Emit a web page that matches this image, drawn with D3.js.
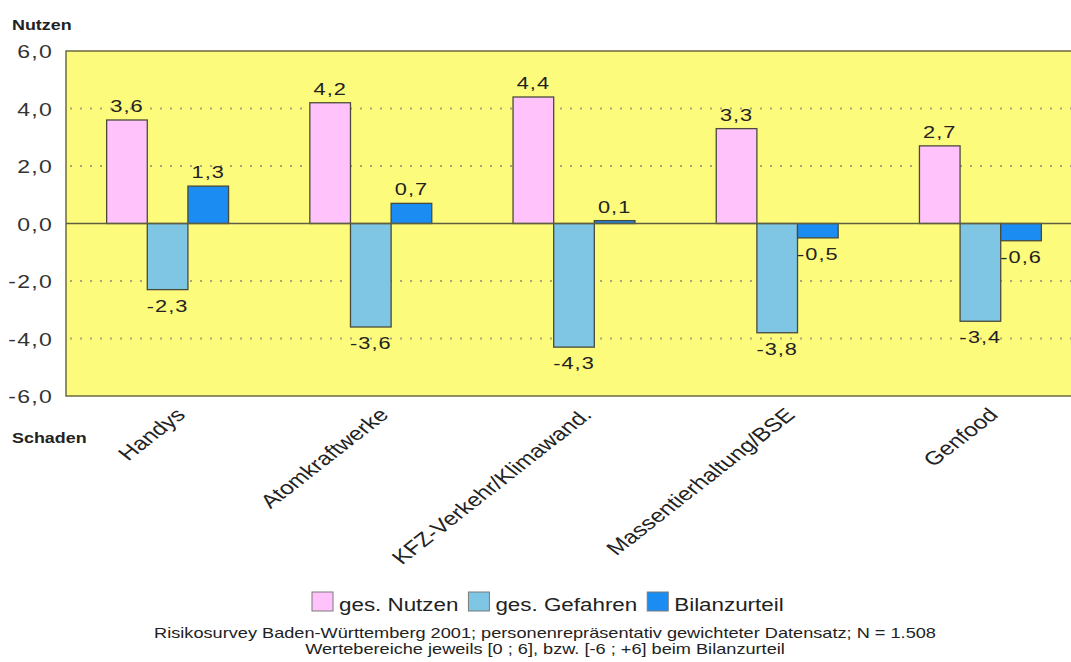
<!DOCTYPE html>
<html>
<head>
<meta charset="utf-8">
<script src="https://cdn.jsdelivr.net/npm/d3@7"></script>
<style>
  body { margin: 0; background: #fff; }
  svg { display: block; font-family: "Liberation Sans", Arial, sans-serif; }
</style>
</head>
<body>
<svg id="chart" width="1071" height="662"></svg>
<script>
var categories = ["Handys", "Atomkraftwerke", "KFZ-Verkehr/Klimawand.", "Massentierhaltung/BSE", "Genfood"];
var seriesNames = ["ges. Nutzen", "ges. Gefahren", "Bilanzurteil"];
var nutzen = [3.6, 4.2, 4.4, 3.3, 2.7];
var gefahren = [-2.3, -3.6, -4.3, -3.8, -3.4];
var bilanz = [1.3, 0.7, 0.1, -0.5, -0.6];
var yTicks = [6, 4, 2, 0, -2, -4, -6];
var colors = ["#ffc2fb", "#7ec6e4", "#1a8cf2"];

var svg = d3.select("#chart");
var pLeft = 66, pTop = 51, pRight = 1082, pBottom = 396;
var sx = 1.28; // the original picture is stretched horizontally

var fmt = function(v) { return d3.format(".1f")(v).replace("−", "-").replace(".", ","); };

var x = d3.scaleBand().domain(categories).range([pLeft, pRight]).paddingInner(0.4).paddingOuter(0.2);
var xs = d3.scaleBand().domain(seriesNames).range([0, x.bandwidth()]);
var y = d3.scaleLinear().domain([-6, 6]).range([pBottom, pTop]);

// text helper, stretched like the original
function label(g, tx, ty, txt, size, anchor) {
  return g.append("text")
    .attr("transform", "translate(" + tx + "," + ty + ") scale(" + sx + ",1)")
    .attr("text-anchor", anchor || "start")
    .attr("font-size", size)
    .attr("fill", "#222")
    .text(txt);
}

// plot background
svg.append("rect")
  .attr("x", pLeft).attr("y", pTop)
  .attr("width", pRight - pLeft).attr("height", pBottom - pTop)
  .attr("fill", "#fdfb7c")
  .attr("stroke", "#6b6b40").attr("stroke-width", 1.5);

// dotted grid
svg.append("g").selectAll("line")
  .data(yTicks.filter(function(d) { return d != 0 && Math.abs(d) != 6; }))
  .enter().append("line")
  .attr("x1", pLeft + 4).attr("x2", pRight)
  .attr("y1", function(d) { return y(d); }).attr("y2", function(d) { return y(d); })
  .attr("stroke", "#aaa47a").attr("stroke-width", 2)
  .attr("stroke-dasharray", "2,8");

// y axis (ticks from the scale, labels stretched)
var yAxis = svg.append("g")
  .attr("transform", "translate(" + pLeft + ",0)")
  .call(d3.axisLeft(y).tickValues(yTicks).tickSize(0).tickFormat(""));
yAxis.select(".domain").remove();
yAxis.selectAll(".tick").each(function(t) {
  label(d3.select(this), -13, 6.5, fmt(t), 18, "end")
    .attr("fill", "#333").attr("letter-spacing", 1);
});

var rows = categories.map(function(c, i) {
  return { cat: c, vals: [nutzen[i], gefahren[i], bilanz[i]] };
});

var groups = svg.append("g").selectAll("g")
  .data(rows).enter().append("g")
  .attr("transform", function(d) { return "translate(" + x(d.cat) + ",0)"; });

groups.selectAll("rect")
  .data(function(d) { return d.vals.map(function(v, j) { return { v: v, s: seriesNames[j], j: j }; }); })
  .enter().append("rect")
  .attr("x", function(d) { return xs(d.s); })
  .attr("y", function(d) { return y(Math.max(0, d.v)); })
  .attr("width", xs.bandwidth())
  .attr("height", function(d) { return Math.abs(y(d.v) - y(0)); })
  .attr("fill", function(d) { return colors[d.j]; })
  .attr("stroke", "#4a4a3a").attr("stroke-width", 1.3);

groups.each(function(d) {
  var g = d3.select(this);
  d.vals.forEach(function(v, j) {
    var cx = xs(seriesNames[j]) + xs.bandwidth() / 2;
    var ty = v >= 0 ? y(v) - 8 : y(v) + 22;
    label(g, cx, ty, fmt(v), 17, "middle").attr("letter-spacing", 0.8);
  });
});

// zero line
svg.append("line")
  .attr("x1", pLeft).attr("x2", pRight)
  .attr("y1", y(0)).attr("y2", y(0))
  .attr("stroke", "#5e5e40").attr("stroke-width", 1.3);

// category labels
svg.append("g").selectAll("text")
  .data(categories).enter().append("text")
  .attr("transform", function(d) {
    return "translate(" + (x(d) + x.bandwidth() / 2 + 19) + ",416) scale(" + sx + ",1) rotate(-45)";
  })
  .attr("text-anchor", "end")
  .attr("font-size", 19)
  .attr("fill", "#222")
  .text(function(d) { return d; });

// axis titles
label(svg, 12, 30, "Nutzen", 14).attr("font-weight", "bold");
label(svg, 12, 443, "Schaden", 14).attr("font-weight", "bold");

// legend
var legend = svg.append("g");
var lx = 312;
seriesNames.forEach(function(s, i) {
  legend.append("rect")
    .attr("x", lx).attr("y", 592).attr("width", 21).attr("height", 19)
    .attr("fill", colors[i]).attr("stroke", "#7a7a7a").attr("stroke-width", 1);
  var t = label(legend, lx + 27, 611, s, 17.5);
  lx += 27 + t.node().getComputedTextLength() * sx + 10;
});

// footer
label(svg, 545, 638, "Risikosurvey Baden-Württemberg 2001; personenrepräsentativ gewichteter Datensatz; N = 1.508", 14.2, "middle");
label(svg, 545, 654, "Wertebereiche jeweils [0 ; 6], bzw. [-6 ; +6] beim Bilanzurteil", 14.2, "middle");
</script>
</body>
</html>
